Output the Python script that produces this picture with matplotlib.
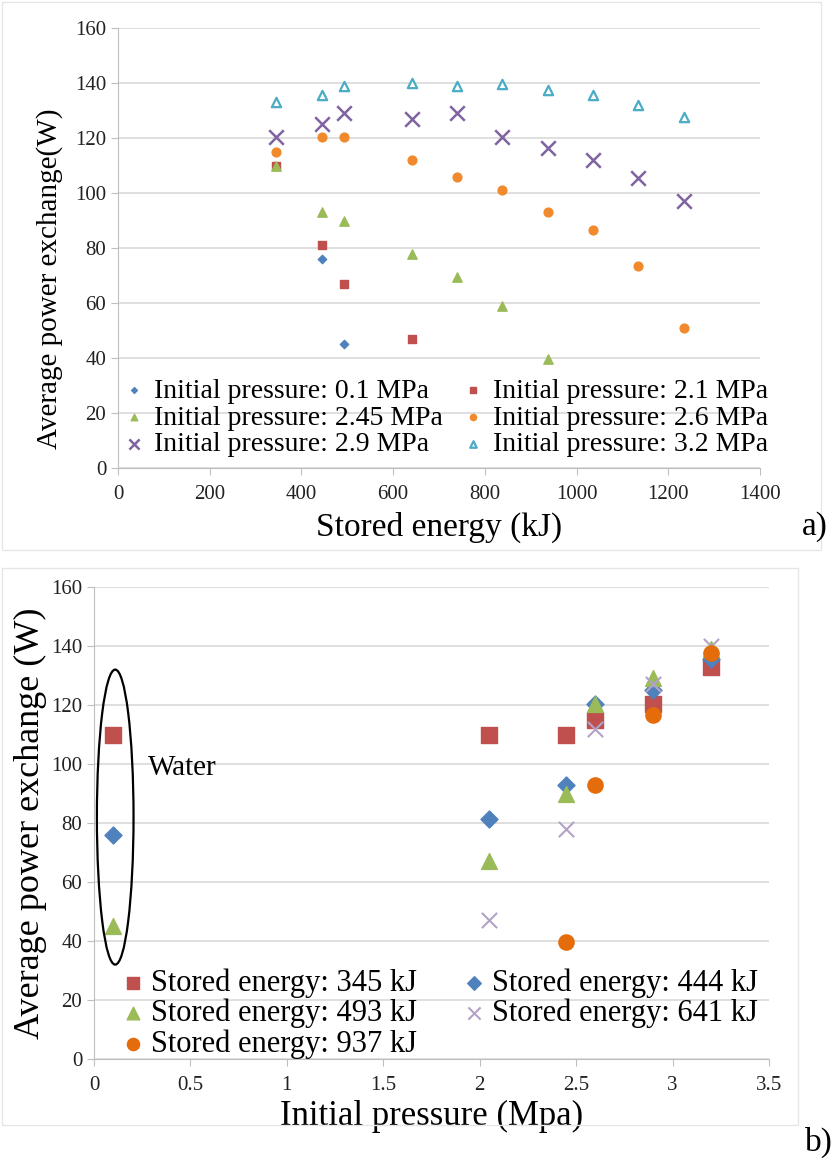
""" Average power exchange vs stored energy / initial pressure """
import numpy as np
from matplotlib import pyplot as plt
from matplotlib.patches import Ellipse, Rectangle

# ---- panel a) data: stored energy (kJ) -> average power exchange (W)
energy_a = [345, 444, 493, 641, 739, 838, 937, 1036, 1135, 1234]
p01_x = [444, 493]
p01_y = [76, 45]
p21_x = [345, 444, 493, 641]
p21_y = [110, 81, 67, 47]
p245_x = [345, 444, 493, 641, 739, 838, 937]
p245_y = [110, 93, 90, 78, 69.5, 59, 39.5]
p26_y = [115, 120.5, 120.5, 112, 106, 101, 93, 86.5, 73.5, 51]
p29_y = [120.5, 125, 129, 127, 129, 120.5, 116.5, 112, 105.5, 97]
p32_y = [133, 135.5, 139, 140, 139, 139.5, 137.5, 135.5, 132, 127.5]

# ---- panel b) data: initial pressure (MPa) -> average power exchange (W)
e345_x = [0.1, 2.05, 2.45, 2.6, 2.9, 3.2]
e345_y = [110, 110, 110, 115, 120.5, 133]
e444_x = [0.1, 2.05, 2.45, 2.6, 2.9, 3.2]
e444_y = [76, 81.5, 93, 120.5, 125, 135.5]
e493_x = [0.1, 2.05, 2.45, 2.6, 2.9, 3.2]
e493_y = [45, 67, 90, 120.5, 129, 139]
e641_x = [2.05, 2.45, 2.6, 2.9, 3.2]
e641_y = [47, 78, 112, 127, 140]
e937_x = [2.45, 2.6, 2.9, 3.2]
e937_y = [39.5, 93, 116.5, 137.5]

plt.rcParams['font.family'] = ['Liberation Serif', 'DejaVu Serif']

BLUE = '#4F81BD'
RED = '#C0504D'
GREEN = '#9BBB59'
ORANGE = '#F08A2C'
PURPLE = '#8064A2'
CYAN = '#4BACC6'
GRID = '#D9D9D9'


def style_axes(ax):
    ax.set_ylim(0, 160)
    ax.set_yticks(np.arange(0, 161, 20))
    ax.grid(axis='y', color=GRID, linewidth=1.2)
    ax.set_axisbelow(True)
    for side in ('top', 'right'):
        ax.spines[side].set_visible(False)
    for side in ('left', 'bottom'):
        ax.spines[side].set_color('#BFBFBF')
    ax.tick_params(axis='both', colors='#BFBFBF', labelcolor='#222222',
                   labelsize=15, length=5)
    ax.tick_params(axis='x', pad=7)


fig = plt.figure(figsize=(8.34, 11.58), dpi=100)

# frames around the two panels
fig.add_artist(Rectangle((0.002, 1 - 550 / 1158), 0.982, 548 / 1158, transform=fig.transFigure,
                         fill=False, edgecolor='#E6E6E6', linewidth=1))
fig.add_artist(Rectangle((0.002, 1 - 1125 / 1158), 0.955, 557 / 1158, transform=fig.transFigure,
                         fill=False, edgecolor='#E6E6E6', linewidth=1))

# ---- panel a)
ax1 = fig.add_axes([118 / 834, 1 - 468 / 1158, 642 / 834, 440 / 1158])
ax1.scatter(p01_x, p01_y, marker='D', s=18, color=BLUE, label='Initial pressure: 0.1 MPa')
ax1.scatter(p21_x, p21_y, marker='s', s=40, color=RED, label='Initial pressure: 2.1 MPa')
ax1.scatter(p245_x, p245_y, marker='^', s=45, color=GREEN, label='Initial pressure: 2.45 MPa')
ax1.scatter(energy_a, p26_y, marker='o', s=40, color=ORANGE, label='Initial pressure: 2.6 MPa')
ax1.scatter(energy_a, p29_y, marker='x', s=110, color=PURPLE, linewidths=1.8,
            label='Initial pressure: 2.9 MPa')
ax1.scatter(energy_a, p32_y, marker='^', s=45, facecolor='white', edgecolor=CYAN,
            linewidths=1.6, label='Initial pressure: 3.2 MPa')
style_axes(ax1)
ax1.set_xlim(0, 1400)
ax1.set_xticks(np.arange(0, 1401, 200))
ax1.set_xlabel('Stored energy (kJ)', fontsize=24, labelpad=6)
ax1.set_ylabel('Average power exchange(W)', fontsize=21)
ax1.yaxis.set_label_coords(-0.085, 0.43)
h, l = ax1.get_legend_handles_labels()
order = [0, 2, 4, 1, 3, 5]
ax1.legend([h[i] for i in order], [l[i] for i in order], ncol=2, loc='lower left',
           bbox_to_anchor=(-0.022, -0.02), frameon=False, fontsize=20, handlelength=0.8,
           handletextpad=0.3, columnspacing=0.7, labelspacing=0.05, markerscale=0.7,
           borderaxespad=0.3)
fig.text(802 / 834, 1 - 542 / 1158, 'a)', fontsize=24, va='bottom', ha='left')

# ---- panel b)
ax2 = fig.add_axes([94 / 834, 1 - 1059 / 1158, 675 / 834, 472 / 1158])
ax2.scatter(e345_x, e345_y, marker='s', s=120, color=RED, label='Stored energy: 345 kJ')
ax2.scatter(e444_x, e444_y, marker='D', s=75, color=BLUE, label='Stored energy: 444 kJ')
ax2.scatter(e493_x, e493_y, marker='^', s=130, color=GREEN, label='Stored energy: 493 kJ')
ax2.scatter(e641_x, e641_y, marker='x', s=120, color='#B3A2C7', linewidths=1.5,
            label='Stored energy: 641 kJ')
ax2.scatter(e937_x, e937_y, marker='o', s=120, color='#E46C0A', label='Stored energy: 937 kJ')
style_axes(ax2)
ax2.set_xlim(0, 3.5)
ax2.set_xticks(np.arange(0, 3.51, 0.5))
ax2.set_xticklabels(['0', '0.5', '1', '1.5', '2', '2.5', '3', '3.5'])
ax2.set_xlabel('Initial pressure (Mpa)', fontsize=25, labelpad=4)
ax2.set_ylabel('Average power exchange (W)', fontsize=26)
ax2.yaxis.set_label_coords(-0.07, 0.5)
ax2.add_patch(Ellipse((0.11, 82), 0.19, 100, fill=False, edgecolor='black', linewidth=1.6))
ax2.text(0.28, 98.5, 'Water', fontsize=21, va='center')
h, l = ax2.get_legend_handles_labels()
order = [0, 2, 4, 1, 3]
ax2.legend([h[i] for i in order], [l[i] for i in order], ncol=2, loc='lower left',
           bbox_to_anchor=(0.01, -0.045), frameon=False, fontsize=22, handlelength=0.7,
           handletextpad=0.25, columnspacing=1.5, labelspacing=0.03, markerscale=0.8,
           borderaxespad=0.3)
fig.text(805 / 834, 1 - 1158 / 1158, 'b)', fontsize=24, va='bottom', ha='left')

plt.savefig('out.png', dpi=100)
